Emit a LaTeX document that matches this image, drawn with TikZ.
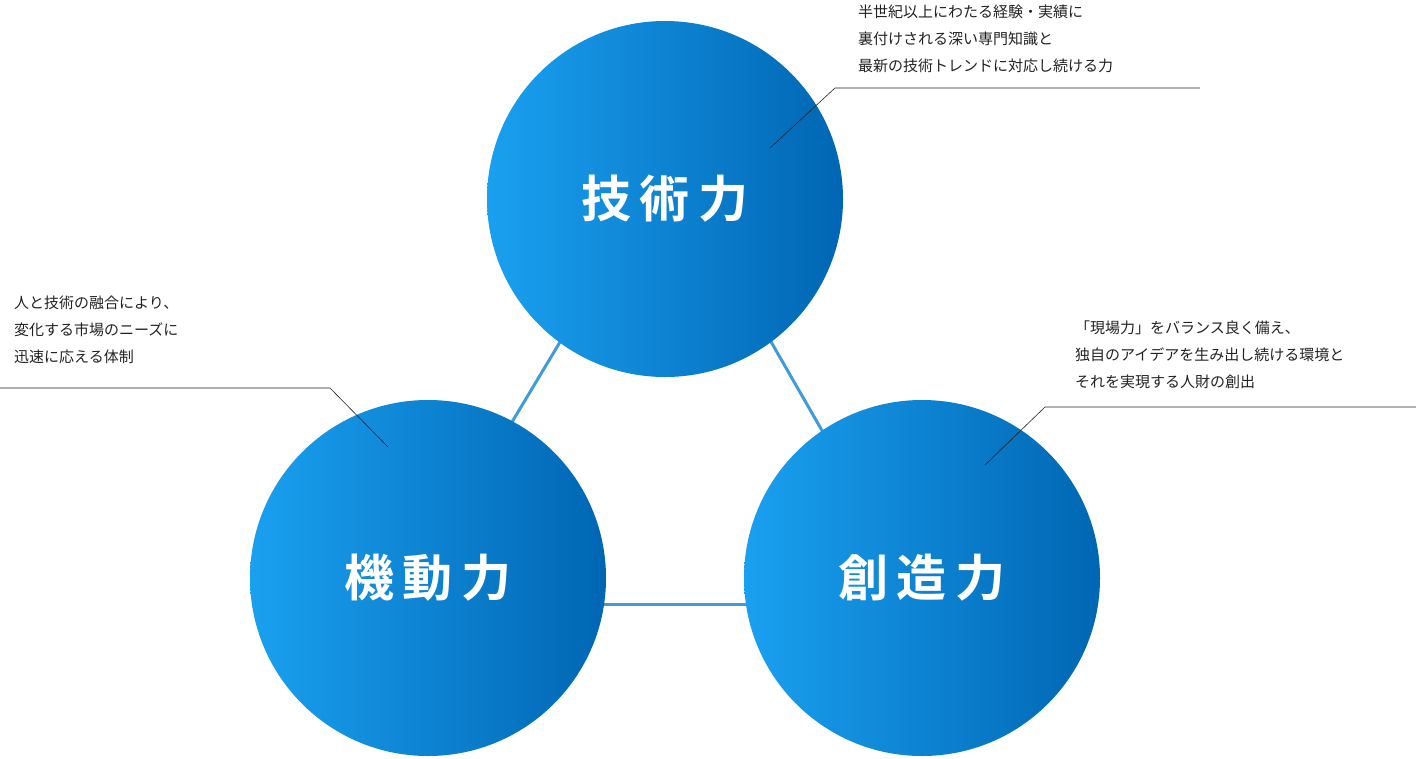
\documentclass[tikz,border=0pt]{standalone}
\usepackage{fontspec}
\newfontfamily\cjk{Noto Sans CJK JP}
\newfontfamily\cjkbold{Noto Sans CJK JP Bold}
\usetikzlibrary{positioning}
\definecolor{lightblue}{HTML}{1AA0F0}
\definecolor{darkblue}{HTML}{0066B3}
\definecolor{linkblue}{HTML}{409BD8}
\definecolor{textgray}{HTML}{222222}
\tikzset{
    pillar/.style={
        circle,
        minimum size=356pt,
        left color=lightblue,
        right color=darkblue,
        text=white,
        font=\cjkbold\fontsize{50}{50}\selectfont
    },
    link/.style={draw=linkblue, line width=3pt},
    note/.style={
        anchor=north west,
        align=left,
        inner sep=0pt,
        text=textgray,
        font=\cjk\fontsize{15}{27}\selectfont
    },
    leader/.style={draw=textgray, line width=0.6pt}
}
\begin{document}
\begin{tikzpicture}[x=1pt,y=-1pt]
    \useasboundingbox (0,0) rectangle (1416,758);
    % connectors behind the circles
    \coordinate (tl) at (560,342);
    \coordinate (lt) at (512,422);
    \coordinate (tr) at (770,340);
    \coordinate (rt) at (824,434);
    \coordinate (lr) at (600,604);
    \coordinate (rl) at (750,604);
    \draw[link] (tl) -- (lt);
    \draw[link] (tr) -- (rt);
    \draw[link] (lr) -- (rl);

    \node[pillar] (tech) at (665,199) {技\,術\,力};
    \node[pillar] (mobility) at (428,578) {機\,動\,力};
    \node[pillar] (creation) at (922,578) {創\,造\,力};

    % notes
    \node[note] (tech note) at (858,5) {半世紀以上にわたる経験・実績に\\裏付けされる深い専門知識と\\最新の技術トレンドに対応し続ける力};
    \coordinate (tech bend) at (835,88);
    \draw[leader] (1200,88) -- (tech bend) -- (770,148);

    \node[note] (mobility note) at (14,296) {人と技術の融合により、\\変化する市場のニーズに\\迅速に応える体制};
    \coordinate (mobility bend) at (330,388);
    \draw[leader] (0,388) -- (mobility bend) -- (388,447);

    \node[note] (creation note) at (1075,321) {「現場力」をバランス良く備え、\\独自のアイデアを生み出し続ける環境と\\それを実現する人財の創出};
    \coordinate (creation bend) at (1045,407);
    \draw[leader] (1416,407) -- (creation bend) -- (985,465);
\end{tikzpicture}
\end{document}
